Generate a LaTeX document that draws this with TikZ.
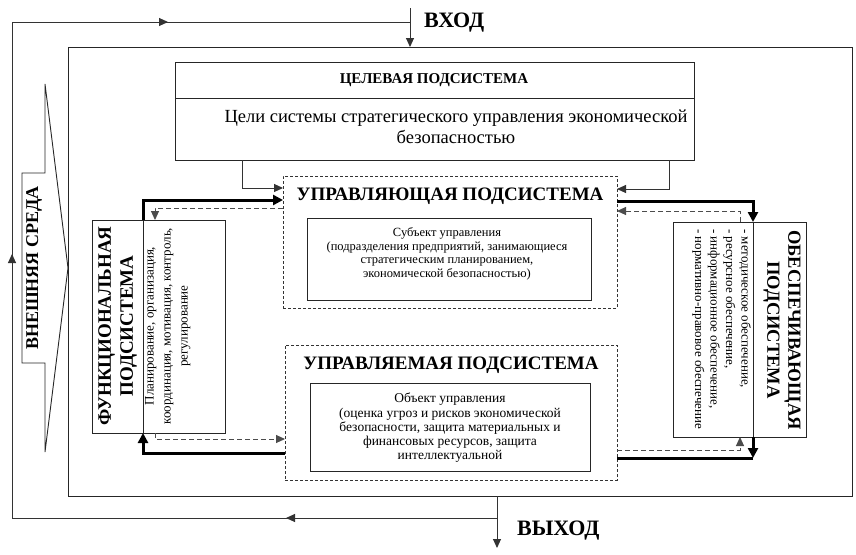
\documentclass[tikz,border=0pt]{standalone}
\usepackage{fontspec}
\setmainfont{Liberation Serif}
\usetikzlibrary{arrows.meta}
\newcommand\setfs[2]{\fontsize{#1}{#2}\selectfont}
\tikzset{
  box/.style={draw=black!85, line width=0.9pt, inner sep=0pt, outer sep=0pt, anchor=north west},
  dbox/.style={draw=black!80, line width=0.9pt, dash pattern=on 3pt off 2pt, inner sep=0pt, outer sep=0pt, anchor=north west},
  conn/.style={draw=black!80, line width=1pt},
  heavy/.style={draw=black, line width=3pt},
  dconn/.style={draw=black!70, line width=1pt, dash pattern=on 5pt off 3pt},
  arrowend/.style={-{Triangle[length=9pt,width=8pt]}},
  heavyend/.style={-{Triangle[length=10pt,width=10pt]}},
  title/.style={font=\setfs{19}{22}\bfseries, inner sep=0pt},
  small/.style={align=center, inner sep=0pt},
}
\begin{document}
\begin{tikzpicture}[x=1pt,y=-1pt]
\useasboundingbox (0,0) rectangle (856,554);
\fill[white] (0,0) rectangle (856,554);

% main frame
\node[box, minimum width=784pt, minimum height=449pt] (frame) at (68,47) {};

% outer environment loop
\coordinate (inS) at (410,8);
\coordinate (outE) at (497,548);
\coordinate (tl) at (12,22);
\coordinate (bl) at (12,518);
\coordinate (tm) at (168,22);
\coordinate (lm) at (12,254);
\coordinate (bm) at (286,518);
\draw[conn, arrowend] (inS) -- (inS |- frame.north);
\draw[conn, arrowend] (frame.south -| outE) -- (outE);
\draw[conn] (outE |- bl) -- (bl) -- (tl) -- (inS |- tl);
\draw[conn, arrowend] (outE |- bl) -- (bm);
\draw[conn, arrowend] (bl) -- (lm);
\draw[conn, arrowend] (tl) -- (tm);
\node[anchor=west, font=\setfs{22}{24}\bfseries, inner sep=0pt] (vhod) at (424,23) {ВХОД};
\node[anchor=west, font=\setfs{22}{24}\bfseries, inner sep=0pt] (vyhod) at (517,531) {ВЫХОД};

% external environment arrow shape
\draw[draw=black!85, line width=0.9pt, fill=white] (22,173) -- (45,173) -- (45,84) -- (68,268) -- (45,452) -- (45,363) -- (22,363) -- cycle;
\node[rotate=90, font=\setfs{18}{20}\bfseries, inner sep=0pt] (env) at (34,268) {ВНЕШНЯЯ СРЕДА};

% goal subsystem
\node[box, minimum width=519pt, minimum height=98pt] (goal) at (175,62) {};
\draw[draw=black!85, line width=0.9pt] (goal.west |- 0,98) -- (goal.east |- 0,98);
\node[font=\setfs{15}{18}\bfseries, inner sep=0pt] (goaltitle) at (434,80) {ЦЕЛЕВАЯ ПОДСИСТЕМА};
\node[align=center, font=\setfs{18.5}{20.5}, inner sep=0pt] (goalbody) at (456,127) {Цели системы стратегического управления экономической\\безопасностью};

% managing subsystem
\node[dbox, minimum width=334pt, minimum height=132pt] (upr) at (283,176) {};
\node[title] (uprtitle) at (450,196) {УПРАВЛЯЮЩАЯ ПОДСИСТЕМА};
\node[box, minimum width=284pt, minimum height=82pt] (subj) at (307,218) {};
\node[small, font=\setfs{12.5}{13.5}] (subjtext) at (447,254) {Субъект управления\\(подразделения предприятий, занимающиеся\\стратегическим планированием,\\экономической безопасностью)};

% managed subsystem
\node[dbox, minimum width=332pt, minimum height=135pt] (upd) at (285,345) {};
\node[title] (updtitle) at (451,365) {УПРАВЛЯЕМАЯ ПОДСИСТЕМА};
\node[box, minimum width=280pt, minimum height=88pt] (obj) at (310,383) {};
\node[small, font=\setfs{13.5}{14.2}] (objtext) at (450,428) {Объект управления\\(оценка угроз и рисков экономической\\безопасности, защита материальных и\\финансовых ресурсов, защита\\интеллектуальной};

% functional subsystem
\node[box, minimum width=133pt, minimum height=213pt] (func) at (92,220) {};
\draw[draw=black!85, line width=0.9pt] (func.north -| 143,0) -- (func.south -| 143,0);
\node[rotate=90, align=center, font=\setfs{19}{22}\bfseries, inner sep=0pt] (functitle) at (117.5,326) {ФУНКЦИОНАЛЬНАЯ\\ПОДСИСТЕМА};
\node[rotate=90, align=center, font=\setfs{13}{17}, inner sep=0pt, anchor=north] (functext) at (145,326) {Планирование, организация,\\координация, мотивация, контроль,\\регулирование};

% supporting subsystem
\node[box, minimum width=133pt, minimum height=215pt] (obes) at (673,222) {};
\draw[draw=black!85, line width=0.9pt] (obes.north -| 753,0) -- (obes.south -| 753,0);
\node[rotate=-90, align=center, font=\setfs{18.5}{21}\bfseries, inner sep=0pt] (obestitle) at (782,330) {ОБЕСПЕЧИВАЮЩАЯ\\ПОДСИСТЕМА};
\node[rotate=-90, align=left, font=\setfs{13}{15.5}, inner sep=0pt, anchor=north west] (obestext) at (751,229) {- методическое обеспечение,\\- ресурсное обеспечение,\\- информационное обеспечение,\\- нормативно-правовое обеспечение};

% goal -> managing
\draw[conn, arrowend] ([xshift=67pt]goal.south west) |- ([yshift=-12pt]upr.north west);
\draw[conn, arrowend] ([xshift=-25pt]goal.south east) |- ([yshift=-13pt]upr.north east);

% functional <-> managing / managed
\draw[heavy, heavyend] ([xshift=51pt]func.north west) |- ([yshift=-24pt]upr.north west);
\draw[dconn, arrowend] ([yshift=-32pt]upr.north west) -| ([xshift=63pt]func.north west);
\draw[heavy, heavyend] ([yshift=-108pt]upd.north west) -| ([xshift=51pt]func.south west);
\draw[dconn, arrowend] ([xshift=63pt]func.south west) |- ([yshift=-94pt]upd.north west);

% supporting <-> managing / managed
\draw[heavy, heavyend] ([yshift=-25pt]upr.north east) -| ([xshift=80pt]obes.north west);
\draw[dconn, arrowend] ([xshift=67pt]obes.north west) |- ([yshift=-35pt]upr.north east);
\draw[dconn, arrowend] ([yshift=-105pt]upd.north east) -| ([xshift=67pt]obes.south west);
\coordinate (brc) at ([xshift=80pt,yshift=-21pt]obes.south west);
\draw[heavy, heavyend] ([xshift=80pt]obes.south west) -- (brc);
\draw[heavy] (brc) -- (brc -| upd.east);
\end{tikzpicture}
\end{document}
